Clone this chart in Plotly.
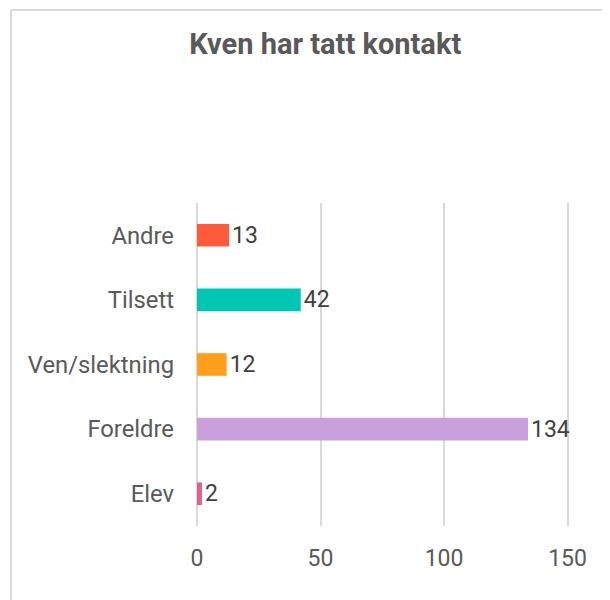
import plotly.graph_objects as go

categories = ["Elev", "Foreldre", "Ven/slektning", "Tilsett", "Andre"]
counts = [2, 134, 12, 42, 13]
colors = ["#E0608A", "#C9A0DC", "#FF9F1C", "#00C7B1", "#FF5A3C"]
x_ticks = [0, 50, 100, 150]

GREY = "#595959"
GRID = "#D9D9D9"

fig = go.Figure(go.Bar(
    x=counts, y=categories, orientation="h",
    marker=dict(color=colors, line_width=0), width=0.35,
    text=counts, textposition="outside", cliponaxis=False, constraintext="none",
    textfont=dict(size=23, color="#404040"),
))

# light frame around the chart, cut off on the right and bottom like the original
fig.add_shape(type="rect", xref="paper", yref="paper",
              x0=-0.4987, x1=1.2, y0=-0.3, y1=1.5975,
              line=dict(color=GRID, width=2), layer="below")

fig.update_layout(
    width=610, height=600,
    margin=dict(l=189, r=48, t=195, b=82),
    plot_bgcolor="white", paper_bgcolor="white",
    font=dict(family="Roboto", color=GREY, size=23),
    title=dict(text="<b>Kven har tatt kontakt</b>", x=0.52, xanchor="center",
               y=0.94, yanchor="middle", font=dict(size=29, color=GREY)),
    showlegend=False,
)
fig.update_xaxes(range=[0, 151], tickvals=x_ticks, showgrid=True,
                 gridcolor=GRID, gridwidth=2, zeroline=True,
                 zerolinecolor=GRID, zerolinewidth=2,
                 ticks="", ticklabelstandoff=16, tickfont=dict(size=23, color=GREY))
fig.update_yaxes(showgrid=False, ticks="", ticklabelstandoff=22,
                 tickfont=dict(size=23.8, color=GREY))

fig.write_html("out.html")
